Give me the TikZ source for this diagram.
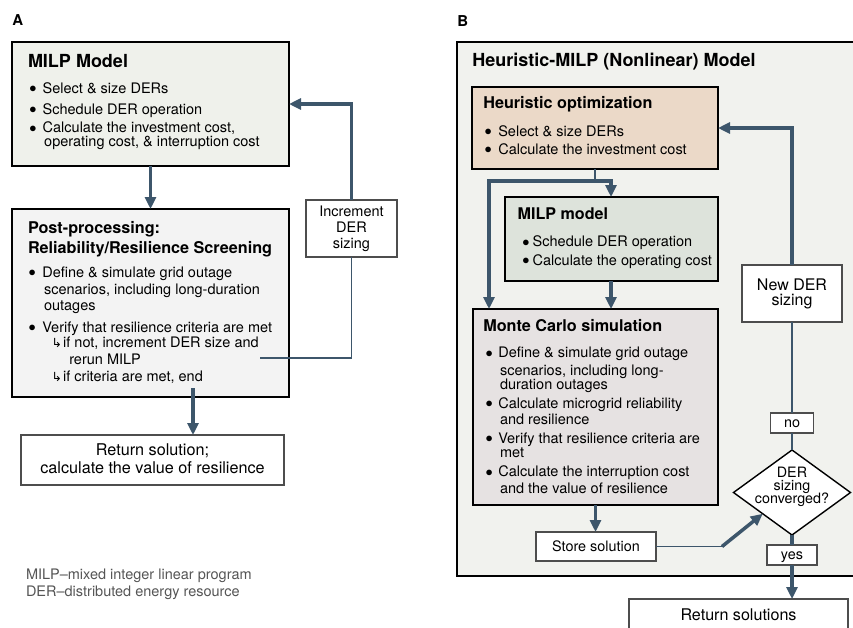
\documentclass[tikz,border=0pt]{standalone}
\usepackage{fontspec}
\setmainfont{TeX Gyre Heros}
\newfontfamily\djv{DejaVu Sans}
\usetikzlibrary{arrows.meta,shapes.geometric}
\definecolor{arrowc}{HTML}{3D566B}
\definecolor{fillMilpA}{HTML}{EFF1EB}
\definecolor{fillPost}{HTML}{F3F3F3}
\definecolor{fillOuter}{HTML}{F1F2EE}
\definecolor{fillHeur}{HTML}{EBD9C8}
\definecolor{fillMilpB}{HTML}{DDE3DB}
\definecolor{fillMC}{HTML}{E6E2E2}
\definecolor{greyline}{HTML}{4D4D4D}
\definecolor{notegrey}{HTML}{555555}
\newlength\bw
\newcommand\bi{\makebox[\bw][l]{\raisebox{0.6pt}{$\bullet$}}}
\newcommand\fs[2]{\fontsize{#1}{#2}\selectfont}
\newcommand\hookarr{{\djv\fontsize{12.5}{12.5}\selectfont ↳}}
\begin{document}
\begin{tikzpicture}[x=1pt,y=-1pt,
  bigbox/.style={draw=black, line width=1.4pt, inner sep=0, outer sep=0, anchor=north west},
  smallbox/.style={draw=greyline, fill=white, line width=1.3pt, inner sep=0, outer sep=0, anchor=north west},
  txt/.style={inner sep=0, outer sep=0},
  arr/.style={draw=arrowc, line width=3.5pt, -{Triangle[length=12pt,width=11pt]}},
  thickline/.style={draw=arrowc, line width=3.5pt},
  thinline/.style={draw=arrowc, line width=1.6pt}]
\useasboundingbox (0,0) rectangle (853,627);

% ---------------- Panel A ----------------
\node[txt, anchor=base west] (labA) at (12.3,25) {\fs{15}{16}\bfseries A};

\node[bigbox, fill=fillMilpA, minimum width=277pt, minimum height=124pt] (milpA) at (12,42) {};
\node[txt, anchor=base west] (milpAtitle) at (28,67.7) {\fs{18}{20}\bfseries MILP Model};
\node[txt, anchor=base west] (milpAlist) at (29.4,93.3) {\fs{14.5}{16}\setlength\bw{13.3pt}%
\begin{tabular}[t]{@{}l@{}l@{}}
\bi & Select \& size DERs\\[4.7pt]
\bi & Schedule DER operation\\[2.7pt]
\bi & Calculate the investment cost,\\[-2pt]
 & \hspace{1.5pt}operating cost, \& interruption cost
\end{tabular}};

\node[bigbox, fill=fillPost, minimum width=277pt, minimum height=188pt] (postA) at (12,209) {};
\node[txt, anchor=base west] (postAtitle) at (28,233) {\fs{16.2}{20}\bfseries
\begin{tabular}[t]{@{}l@{}}Post-processing:\\Reliability/Resilience Screening\end{tabular}};
\node[txt, anchor=base west] (postAlist) at (28.7,277) {\fs{14.5}{16}\setlength\bw{13.6pt}%
\begin{tabular}[t]{@{}l@{}l@{}}
\bi & Define \& simulate grid outage\\[1pt]
 & \hspace{1.7pt}scenarios, including long-duration\\[0.5pt]
 & \hspace{1.7pt}outages\\[5.5pt]
\bi & Verify that resilience criteria are met\\[-1pt]
 & \hspace{9.4pt}\hookarr\hspace{1pt}if not, increment DER size and\\[1pt]
 & \hspace{27pt}rerun MILP\\[1pt]
 & \hspace{9.4pt}\hookarr\hspace{1pt}if criteria are met, end
\end{tabular}};

\node[smallbox, minimum width=263pt, minimum height=50pt] (retA) at (21,435) {};
\node[txt, anchor=base] (retAtxt) at (152.5,455) {\fs{16.2}{18.3}%
\begin{tabular}[t]{@{}c@{}}Return solution;\\calculate the value of resilience\end{tabular}};

\node[smallbox, minimum width=91pt, minimum height=57pt] (incA) at (306,200) {};
\node[txt, anchor=base] (incAtxt) at (351.5,216.7) {\fs{14.5}{15.8}%
\begin{tabular}[t]{@{}c@{}}Increment\\DER\\sizing\end{tabular}};

\node[txt, anchor=base west, text=notegrey] (note) at (26,579.3) {\fs{14.5}{17.4}%
\begin{tabular}[t]{@{}l@{}}MILP–mixed integer linear program\\DER–distributed energy resource\end{tabular}};

% ---------------- Panel B ----------------
\node[txt, anchor=base west] (labB) at (457.3,26) {\fs{15}{16}\bfseries B};

\node[bigbox, fill=fillOuter, minimum width=413pt, minimum height=534pt] (outerB) at (457,42) {};
\node[txt, anchor=base west] (outerBtitle) at (472.3,66.7) {\fs{18}{20}\bfseries Heuristic-MILP (Nonlinear) Model};

\node[bigbox, fill=fillHeur, minimum width=246pt, minimum height=82pt] (heur) at (472,87) {};
\node[txt, anchor=base west] (heurtitle) at (483.3,108.3) {\fs{16.2}{18}\bfseries Heuristic optimization};
\node[txt, anchor=base west] (heurlist) at (484.7,136) {\fs{14.5}{16}\setlength\bw{13.6pt}%
\begin{tabular}[t]{@{}l@{}l@{}}
\bi & Select \& size DERs\\[2.3pt]
\bi & Calculate the investment cost
\end{tabular}};

\node[bigbox, fill=fillMilpB, minimum width=213pt, minimum height=84pt] (milpB) at (505,197) {};
\node[txt, anchor=base west] (milpBtitle) at (517.7,219.3) {\fs{16.1}{18}\bfseries MILP model};
\node[txt, anchor=base west] (milpBlist) at (522.4,246.7) {\fs{14.5}{16}\setlength\bw{10.3pt}%
\begin{tabular}[t]{@{}l@{}l@{}}
\bi & Schedule DER operation\\[2.6pt]
\bi & Calculate the operating cost
\end{tabular}};

\node[bigbox, fill=fillMC, minimum width=245pt, minimum height=196pt] (mc) at (473,309) {};
\node[txt, anchor=base west] (mctitle) at (483.3,331.7) {\fs{16.2}{18}\bfseries Monte Carlo simulation};
\node[txt, anchor=base west] (mclist) at (485.7,357.7) {\fs{14.5}{16}\setlength\bw{12.6pt}%
\begin{tabular}[t]{@{}l@{}l@{}}
\bi & Define \& simulate grid outage\\[1.3pt]
 & \hspace{1.7pt}scenarios, including long-\\[-1.7pt]
 & \hspace{1.7pt}duration outages\\[3pt]
\bi & Calculate microgrid reliability\\
 & \hspace{1.7pt}and resilience\\[3pt]
\bi & Verify that resilience criteria are\\[-1.6pt]
 & \hspace{1.7pt}met\\[3pt]
\bi & Calculate the interruption cost\\[0.6pt]
 & \hspace{1.7pt}and the value of resilience
\end{tabular}};

\node[smallbox, minimum width=120pt, minimum height=29pt] (store) at (536,532) {};
\node[txt, anchor=base] (storetxt) at (596,551.7) {\fs{14.4}{16}Store solution};

\node[smallbox, minimum width=100pt, minimum height=57pt] (newder) at (742,265) {};
\node[txt, anchor=base] (newdertxt) at (792,290) {\fs{16}{15}%
\begin{tabular}[t]{@{}c@{}}\smash{New DER}\\\smash{sizing}\end{tabular}};

\node[smallbox, minimum width=43pt, minimum height=20pt] (nobox) at (770.5,413) {};
\node[txt, anchor=base] (notxt) at (792,427.7) {\fs{14.4}{16}no};

\node[draw=black, fill=white, line width=1.4pt, diamond, minimum width=117pt, minimum height=85pt, inner sep=0, outer sep=0] (conv) at (792,492.5) {};
\node[txt, anchor=base] (convtxt) at (792,477.7) {\fs{14.3}{12.8}%
\begin{tabular}[t]{@{}c@{}}\smash{DER}\\\smash{sizing}\\\smash{converged?}\end{tabular}};

\node[smallbox, minimum width=50pt, minimum height=20pt] (yesbox) at (767,545) {};
\node[txt, anchor=base] (yestxt) at (792,559.3) {\fs{14.4}{16}yes};

\node[smallbox, minimum width=219pt, minimum height=45pt] (retB) at (629,599) {};
\node[txt, anchor=base] (retBtxt) at (738.5,620) {\fs{16.1}{18}Return solutions};

% ---------------- Connectors A ----------------
\draw[arr] (milpA.south) -- (postA.north);
\coordinate (postout) at (193,388);
\draw[arr] (postout) -- (postout |- retA.north);
\coordinate (fbA) at (260,358);
\draw[thinline] (fbA) -| (incA.south);
\draw[arr] (incA.north) |- (milpA.east);

% ---------------- Connectors B ----------------
\coordinate (split) at (595,181);
\coordinate (jl) at (489,181);
\coordinate (jr) at (611,181);
\draw[thinline] (heur.south -| split) -- (split);
\draw[arr] (jr) -- (jl) -- (jl |- mc.north);
\draw[arr] (jl) -- (jr) -- (jr |- milpB.north);
\draw[arr] (milpB.south -| jr) -- (mc.north -| jr);
\draw[arr] (mc.south) -- (mc.south |- store.north);
\coordinate (bend) at (722,546.5);
\draw[thinline] (store.east) -- (bend);
\draw[arr] (bend) -- (conv.south west);
\draw[arr] (newder.north) |- (heur.east);
\draw[thinline] (newder.south) -- (nobox.north);
\draw[thinline] (nobox.south) -- (conv.north);
\draw[thickline] (conv.south) -- (yesbox.north);
\draw[arr] (yesbox.south) -- (yesbox.south |- retB.north);
\end{tikzpicture}
\end{document}
